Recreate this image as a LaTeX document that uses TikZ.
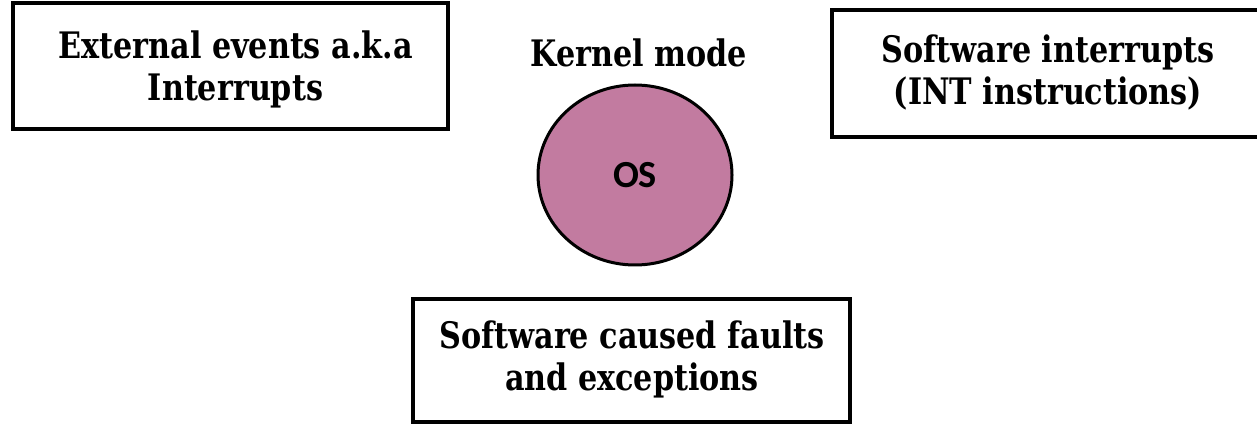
\documentclass[tikz,border=0pt]{standalone}
\usepackage{fontspec}
\setmainfont{DejaVu Serif Condensed}[FakeStretch=0.92]
\newfontfamily\osfont{Carlito}
\usetikzlibrary{shapes.geometric}
\definecolor{osfill}{HTML}{C27BA0}
\tikzset{
  boxnode/.style={draw=black, line width=4pt, rectangle, inner sep=0pt},
  boxtext/.style={align=center, inner sep=0pt, font=\bfseries\fontsize{36.5pt}{42pt}\selectfont},
  osnode/.style={draw=black, line width=3pt, ellipse, fill=osfill, inner sep=0pt,
    minimum width=194pt, minimum height=180pt, font=\osfont\bfseries\fontsize{38.3pt}{44pt}\selectfont},
  titletext/.style={inner sep=0pt, font=\bfseries\fontsize{36.5pt}{42pt}\selectfont}
}
\begin{document}
\begin{tikzpicture}[x=1pt,y=-1pt]
\useasboundingbox (0,0) rectangle (1257,427);
\node[boxnode, minimum width=435pt, minimum height=126pt] (ext) at (230.5,66) {};
\node[boxtext] (extt) at (235.5,69.5) {External events a.k.a\\Interrupts};
\node[boxnode, minimum width=432pt, minimum height=127pt] (soft) at (1048,73.5) {};
\node[boxtext] (softt) at (1048,72) {Software interrupts\\(INT instructions)};
\node[boxnode, minimum width=437pt, minimum height=123pt] (flt) at (631.5,360.5) {};
\node[boxtext] (fltt) at (632,359.5) {Software caused faults\\and exceptions};
\node[osnode] (os) at (635,175) {OS};
\node[titletext, anchor=base] (kern) at (639,67) {Kernel mode};
\end{tikzpicture}
\end{document}
